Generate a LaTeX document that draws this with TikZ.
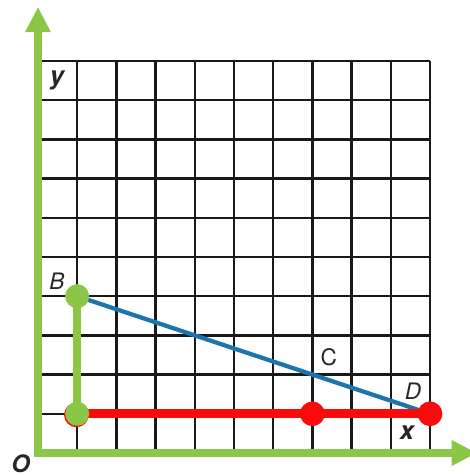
\documentclass[tikz,border=0pt]{standalone}
\usepackage{fontspec}
\newfontfamily\lblfont{TeX Gyre Heros}
\usetikzlibrary{arrows.meta}
\definecolor{axgreen}{RGB}{140,198,70}
\definecolor{segblue}{RGB}{28,118,172}
\definecolor{segred}{RGB}{250,10,10}
\tikzset{
  gridline/.style={line width=1.8pt, black!90},
  axisline/.style={line width=6pt, axgreen},
  greendot/.style={circle, fill=axgreen, inner sep=0pt, minimum size=18pt},
  reddot/.style={circle, fill=segred, inner sep=0pt, minimum size=18.5pt},
  smalldot/.style={circle, fill=segblue, inner sep=0pt, minimum size=3.5pt},
  axlabel/.style={font=\lblfont\bfseries\itshape\fontsize{19}{19}\selectfont, text=black!85, inner sep=0pt},
  ptlabel/.style={font=\lblfont\fontsize{17}{17}\selectfont, text=black!85, inner sep=0pt}
}
\begin{document}
\begin{tikzpicture}[x=29.4pt, y=29.4pt]
\useasboundingbox (-0.969,-0.561) rectangle (10.995,11.556);
% grid
\foreach \i in {0,...,10} {
  \draw[gridline] (\i,0) -- (\i,10);
  \draw[gridline] (0,\i) -- (10,\i);
}
% axes
\coordinate (O) at (0,0);
\coordinate (ytip) at (0,11.38);
\coordinate (xtip) at (11.2,0);
\draw[axisline, line cap=rect, -{Triangle[length=19pt,width=18pt]}] (O) -- (ytip);
\draw[axisline, line cap=rect, -{Triangle[length=19pt,width=18pt]}] (O) -- (xtip);
% points
\coordinate (B) at (1,4);
\coordinate (A) at (1,1);
\coordinate (C) at (7,2);
\coordinate (E) at (7,1);
\coordinate (D) at (10,1);
% segments
\draw[segblue, line width=3.2pt] (B) -- (D);
\node[smalldot] (Cdot) at (C) {};
\draw[axgreen, line width=6pt] (B) -- (A);
\draw[segred, line width=7pt] (A) -- (D);
\node[reddot] (Ared) at ([shift={(-0.6pt,-0.8pt)}]A) {};
\node[reddot] (Edot) at (E) {};
\node[reddot] (Ddot) at (D) {};
\node[greendot] (Bdot) at (B) {};
\node[greendot] (Adot) at (A) {};
% labels
\node[axlabel] (ylbl) at (0.485,9.5) {y};
\node[axlabel] (xlbl) at (9.41,0.53) {x};
\node[axlabel, font=\lblfont\bfseries\itshape\fontsize{18}{18}\selectfont] (Olbl) at (-0.44,-0.28) {O};
\node[ptlabel, font=\lblfont\itshape\fontsize{17}{17}\selectfont] (Blbl) at (0.485,4.39) {B};
\node[ptlabel] (Clbl) at (7.42,2.45) {C};
\node[ptlabel, font=\lblfont\itshape\fontsize{17}{17}\selectfont] (Dlbl) at (9.57,1.58) {D};
\end{tikzpicture}
\end{document}
